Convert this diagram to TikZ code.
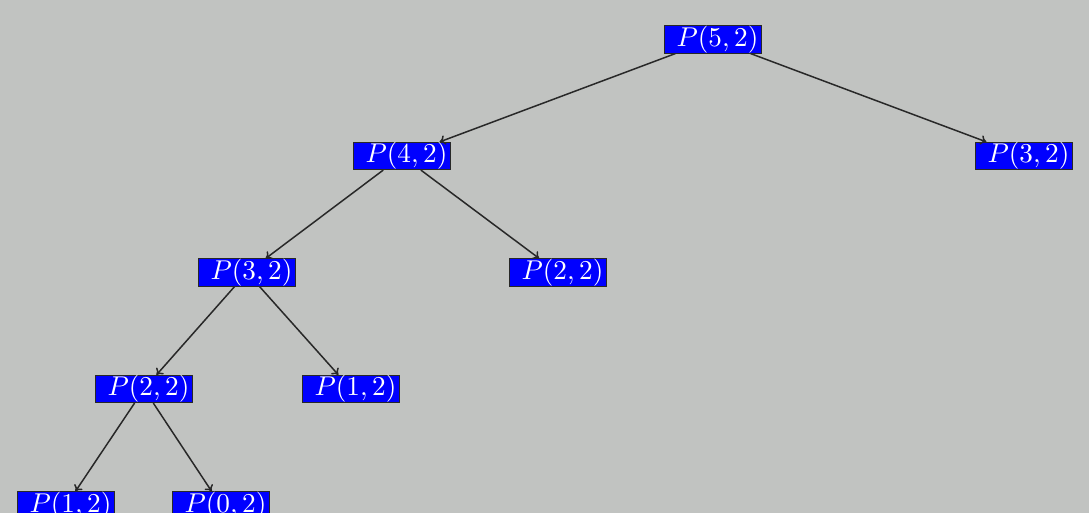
\documentclass[tikz,border=0pt]{standalone}
\usetikzlibrary{arrows.meta}
\definecolor{bg}{RGB}{193,195,193}
\definecolor{edgec}{RGB}{40,40,40}
\begin{document}
\begin{tikzpicture}[x=0.3676pt,y=-0.3676pt,
  pnode/.style={draw=edgec,fill=blue,text=white,inner xsep=1pt,inner ysep=0pt,line width=0.35pt},
  conn/.style={-{To[length=2.2pt,width=3.6pt]},draw=edgec,line width=0.55pt}]
\fill[bg] (0,0) rectangle (1089,513);
\useasboundingbox (0,0) rectangle (1089,513);
\node[pnode] (a) at (713,39.5) {\ $P(5,2)$};
\node[pnode] (b) at (402,156) {\ $P(4,2)$};
\node[pnode] (c) at (1024,156) {\ $P(3,2)$};
\node[pnode] (d) at (247,272.5) {\ $P(3,2)$};
\node[pnode] (e) at (558,272.5) {\ $P(2,2)$};
\node[pnode] (f) at (144,389) {\ $P(2,2)$};
\node[pnode] (g) at (351,389) {\ $P(1,2)$};
\node[pnode] (h) at (66,505.5) {\ $P(1,2)$};
\node[pnode] (i) at (221,505.5) {\ $P(0,2)$};
\draw[conn] (a) -- (b);
\draw[conn] (a) -- (c);
\draw[conn] (b) -- (d);
\draw[conn] (b) -- (e);
\draw[conn] (d) -- (f);
\draw[conn] (d) -- (g);
\draw[conn] (f) -- (h);
\draw[conn] (f) -- (i);
\end{tikzpicture}
\end{document}
